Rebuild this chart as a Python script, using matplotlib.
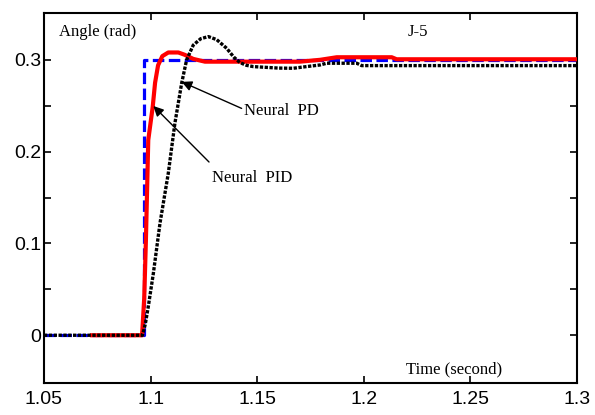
import matplotlib
matplotlib.use("Agg")
import matplotlib.pyplot as plt
import numpy as np

# Reference step
ref_t = [1.05, 1.097, 1.097, 1.30]
ref_v = [0.0, 0.0, 0.300, 0.300]

# Neural PID (red)
pid_t = [1.0725, 1.0960, 1.0970, 1.0978, 1.0989, 1.1010, 1.1021, 1.1035, 1.1055,
         1.1083, 1.1130, 1.1160, 1.1200, 1.1255, 1.1466, 1.1700, 1.1795, 1.1873,
         1.2131, 1.2154, 1.30]
pid_v = [0.0, 0.0, 0.040, 0.1036, 0.2126, 0.249, 0.275, 0.294, 0.304,
         0.308, 0.308, 0.3055, 0.301, 0.298, 0.298, 0.298, 0.300, 0.3028,
         0.3028, 0.3006, 0.3006]

# Neural PD (black dotted)
pd_t = [1.05, 1.0962, 1.0975, 1.0989, 1.1013, 1.1044, 1.1083, 1.1114, 1.1146,
        1.1169, 1.1200, 1.1235, 1.1271, 1.1310, 1.1357, 1.1390, 1.1419, 1.1450,
        1.1482, 1.1600, 1.1669, 1.1730, 1.1795, 1.1826, 1.1967, 1.1990, 1.30]
pd_v = [0.0, 0.0, 0.012, 0.031, 0.0675, 0.122, 0.1765, 0.231, 0.275,
        0.300, 0.316, 0.323, 0.3253, 0.322, 0.3125, 0.303, 0.297, 0.294,
        0.2926, 0.2910, 0.2908, 0.2926, 0.2944, 0.2963, 0.2963, 0.2937, 0.2937]

xticks = [1.05, 1.1, 1.15, 1.2, 1.25, 1.3]
xticklabels = ["1.05", "1.1", "1.15", "1.2", "1.25", "1.3"]
yticks = [0, 0.05, 0.1, 0.15, 0.2, 0.25, 0.3]
yticklabels = ["0", "", "0.1", "", "0.2", "", "0.3"]

fig = plt.figure(figsize=(5.95, 4.15), dpi=100)
ax = fig.add_axes([44/595, 32/415, 533/595, 370/415])

ax.plot(ref_t, ref_v, color=(0, 0, 1), lw=2.3, linestyle=(0, (3.6, 1.4)),
        dash_capstyle='butt', zorder=2)
ax.plot(pid_t, pid_v, color=(1, 0, 0), lw=3.0, solid_joinstyle='round', zorder=3)
ax.plot(pd_t, pd_v, color='black', lw=2.4, linestyle=(0, (1, 0.45)),
        dash_capstyle='butt', zorder=4)

ax.set_xlim(1.05, 1.30)
ax.set_ylim(-0.052, 0.351)
ax.set_xticks(xticks)
ax.set_xticklabels(xticklabels)
ax.set_yticks(yticks)
ax.set_yticklabels(yticklabels)
ax.tick_params(direction='in', top=True, right=True, length=5, width=1.2,
               labelsize=14, pad=2)
ax.tick_params(axis='x', pad=6)
for lab in ax.get_xticklabels() + ax.get_yticklabels():
    lab.set_family('Liberation Sans')
for s in ax.spines.values():
    s.set_linewidth(1.5)

serif = 'Liberation Serif'
fs = 12
ax.text(0.028, 0.948, 'Angle (rad)', transform=ax.transAxes, fontsize=fs,
        family=serif, ha='left', va='center')
ax.text(0.702, 0.948, 'J-5', transform=ax.transAxes, fontsize=fs,
        family=serif, ha='center', va='center')
ax.text(0.770, 0.036, 'Time (second)', transform=ax.transAxes, fontsize=fs,
        family=serif, ha='center', va='center')

ax.annotate('Neural  PD', xy=(1.1146, 0.276), xytext=(1.1440, 0.244),
            fontsize=fs, family=serif, ha='left', va='center',
            arrowprops=dict(arrowstyle='-|>', color='black', lw=1.0,
                            mutation_scale=15, shrinkA=0, shrinkB=0,
                            relpos=(0, 0.6)))
ax.annotate('', xy=(1.1013, 0.2497), xytext=(1.1274, 0.1887),
            arrowprops=dict(arrowstyle='-|>', color='black', lw=1.0,
                            mutation_scale=15, shrinkA=0, shrinkB=0))
ax.text(1.1290, 0.171, 'Neural  PID', fontsize=fs, family=serif,
        ha='left', va='center')

fig.savefig('out.png', dpi=100)
